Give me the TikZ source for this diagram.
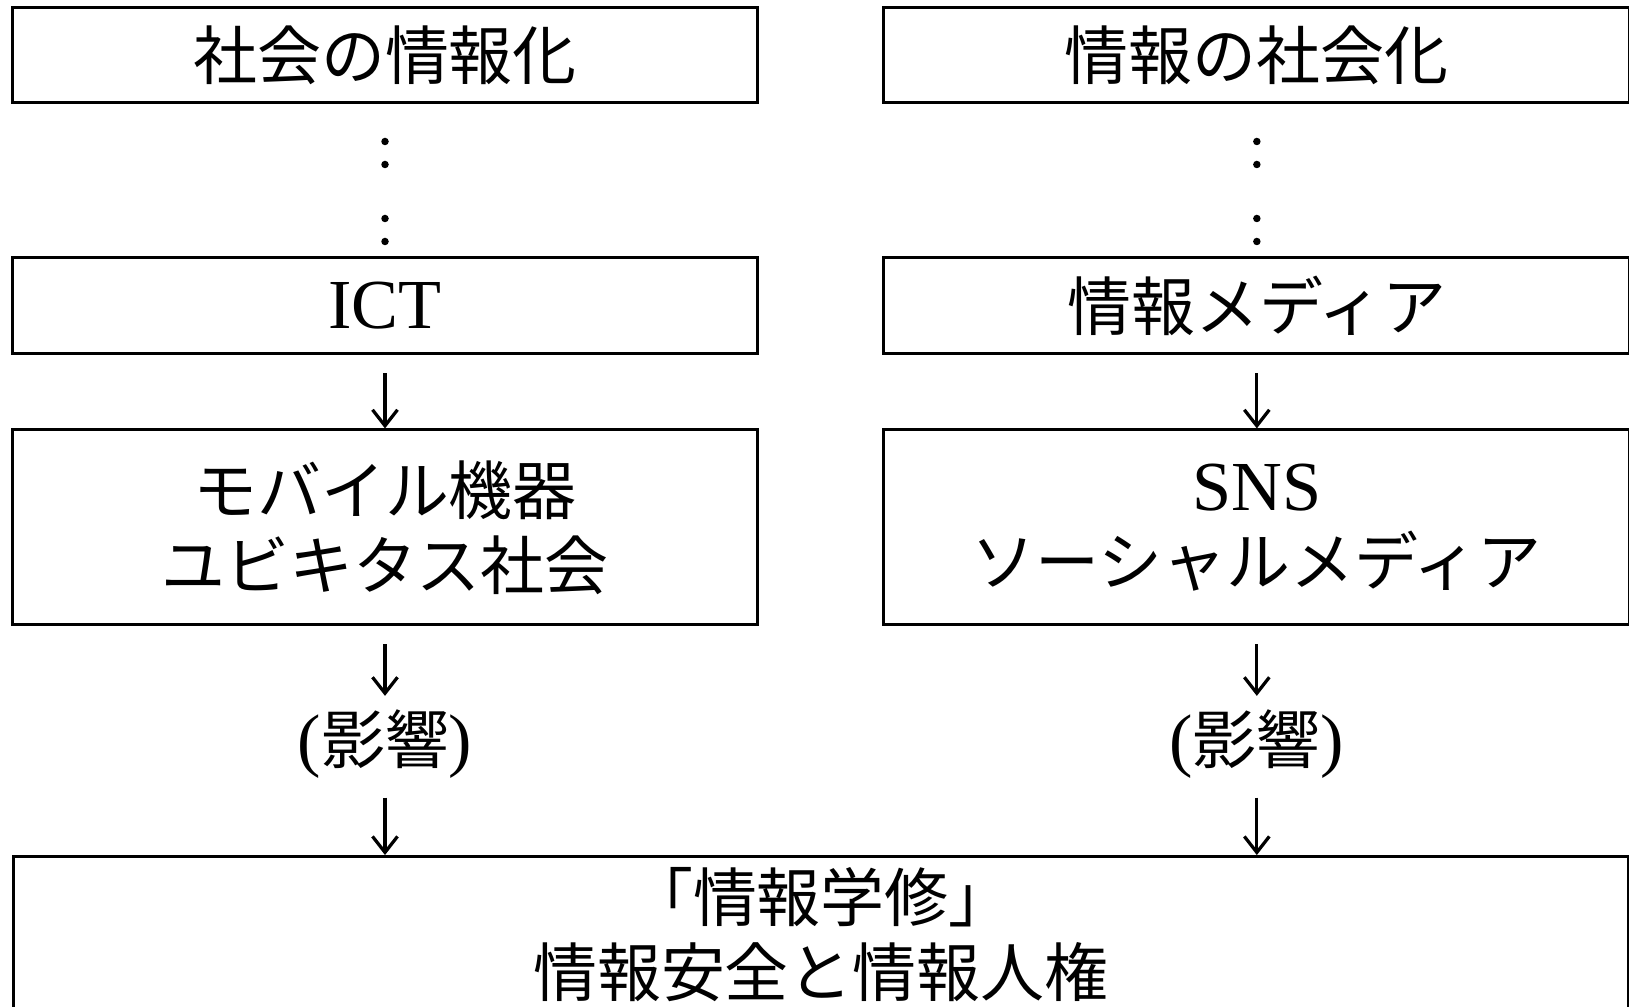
\documentclass[tikz,border=0pt]{standalone}
\usepackage{fontspec}
\setmainfont{Liberation Serif}
\newfontfamily\cjk{Noto Sans CJK JP}[Scale=0.91]
\usetikzlibrary{positioning,calc,arrows.meta}

\newcommand\bigfont{\fontsize{40}{42.7}\selectfont}

\tikzset{
  box/.style={draw, line width=0.06cm, minimum width=14.92cm, minimum height=1.92cm,
    inner sep=0pt, align=center, font=\bigfont},
  tallbox/.style={box, minimum height=3.9cm},
  goalbox/.style={box, minimum width=32.31cm, minimum height=3.14cm},
  note/.style={minimum height=1.92cm, inner sep=0pt, font=\bigfont},
  arr/.style={-{Straight Barb[length=0.32cm,width=0.5cm,line width=0.065cm]}, line width=0.065cm, shorten <=0.36cm},
}

\begin{document}
\begin{tikzpicture}[x=0.02cm, y=-0.02cm, node distance=1.46cm]
    \useasboundingbox (0,0) rectangle (1629,1007);

    \node [box, font=\bigfont\cjk] (soc) at (385,55) {社会の情報化};
    \node [box, font=\bigfont\cjk] (inf) [right=2.46cm of soc] {情報の社会化};

    \node [box] (ict) [below=3.04cm of soc] {ICT};
    \node [box, font=\bigfont\cjk] (media) [below=3.04cm of inf] {情報メディア};

    \node [tallbox, font=\bigfont\cjk] (mobile) [below=of ict] {モバイル機器\\ユビキタス社会};
    \node [tallbox] (sns) [below=of media] {SNS\\{\cjk ソーシャルメディア}};

    \node [note] (eikyoL) [below=1.39cm of mobile] {({\cjk 影響})};
    \node [note] (eikyoR) [below=1.39cm of sns] {({\cjk 影響})};

    \coordinate (mid) at ($(eikyoL.south)!.5!(eikyoR.south)$);
    \node [goalbox, font=\bigfont\cjk] (goal) [below=1.25cm of mid] {「情報学修」\\情報安全と情報人権};

    % dots between the upper boxes
    \foreach \d in {37,60,114,137} {
        \fill ($(soc.south)+(0,\d)$) circle (0.075cm);
        \fill ($(inf.south)+(0,\d)$) circle (0.075cm);
    }

    \draw [arr] (ict) -- (mobile);
    \draw [arr] (media) -- (sns);
    \draw [arr] (mobile) -- (eikyoL);
    \draw [arr] (sns) -- (eikyoR);
    \draw [arr, shorten <=0.1cm] (eikyoL) -- (eikyoL |- goal.north);
    \draw [arr, shorten <=0.1cm] (eikyoR) -- (eikyoR |- goal.north);

\end{tikzpicture}
\end{document}
